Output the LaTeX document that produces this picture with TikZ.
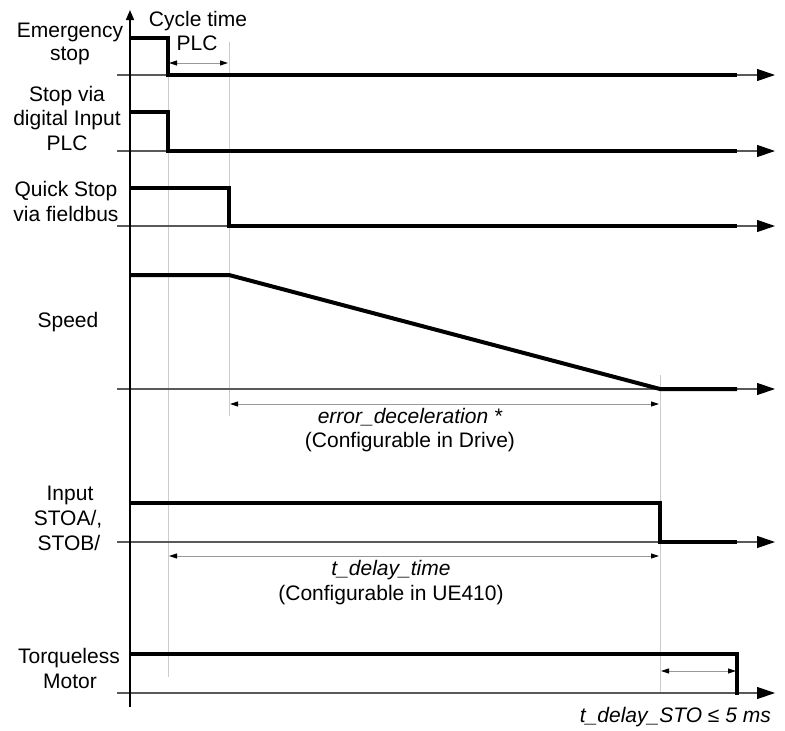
\documentclass[tikz,border=0pt]{standalone}
\usepackage{fontspec}
\setmainfont{Liberation Sans}
\usetikzlibrary{arrows.meta}
\begin{document}
\begin{tikzpicture}[x=1pt,y=-1pt,
  lbl/.style={anchor=base,inner sep=0pt,font=\fontsize{21}{25}\selectfont},
  ilbl/.style={lbl,font=\fontsize{21}{25}\selectfont\itshape},
  sig/.style={line width=4pt,line join=miter},
  baseln/.style={line width=1.2pt,draw=black!65,-{Triangle[length=18pt,width=12pt,color=black]}},
  guide/.style={line width=1pt,draw=black!20},
  dimln/.style={line width=0.9pt,draw=black!40,{Triangle[length=8pt,width=5pt,color=black]}-{Triangle[length=8pt,width=5pt,color=black]}}]
\useasboundingbox (0,0) rectangle (785,731);
% guide lines
\coordinate (g1a) at (168,75);  \coordinate (g1b) at (168,677);
\coordinate (g2a) at (229,42);  \coordinate (g2b) at (229,416);
\coordinate (g3a) at (660,375); \coordinate (g3b) at (660,693);
\draw[guide] (g1a) -- (g1b);
\draw[guide] (g2a) -- (g2b);
\draw[guide] (g3a) -- (g3b);
% baselines
\foreach \y/\n in {75/b1,151/b2,226/b3,389/b4,542/b5,693/b6}{
  \coordinate (\n s) at (117,\y);
  \coordinate (\n e) at (775,\y);
  \draw[baseln] (\n s) -- (\n e);
}
% axis
\coordinate (ax0) at (130,707);
\coordinate (ax1) at (130,10);
\draw[line width=1.5pt,-{Triangle[length=10pt,width=8pt]}] (ax0) -- (ax1);
% signals
\draw[sig] (130,38) -- (168,38) -- (168,75) -- (737,75);
\draw[sig] (130,112) -- (168,112) -- (168,151) -- (737,151);
\draw[sig] (130,188) -- (229,188) -- (229,226) -- (737,226);
\draw[sig] (130,275) -- (229,275) -- (660,389) -- (737,389);
\draw[sig] (130,503) -- (660,503) -- (660,542) -- (737,542);
\draw[sig] (130,654) -- (737,654) -- (737,695);
% dimension arrows
\coordinate (d1a) at (169,63);  \coordinate (d1b) at (228,63);
\coordinate (d2a) at (230,404); \coordinate (d2b) at (659,404);
\coordinate (d3a) at (169,556); \coordinate (d3b) at (659,556);
\coordinate (d4a) at (661,671); \coordinate (d4b) at (736,671);
\draw[dimln] (d1a) -- (d1b);
\draw[dimln] (d2a) -- (d2b);
\draw[dimln] (d3a) -- (d3b);
\draw[dimln] (d4a) -- (d4b);
% labels
\node[lbl] (l1a) at (70,37) {Emergency};
\node[lbl] (l1b) at (70,60) {stop};
\node[lbl] (l2a) at (67,101) {Stop via};
\node[lbl] (l2b) at (67,125) {digital Input};
\node[lbl] (l2c) at (67,150) {PLC};
\node[lbl] (l3a) at (66,196) {Quick Stop};
\node[lbl] (l3b) at (66,221) {via fieldbus};
\node[lbl] (l4) at (68,327) {Speed};
\node[lbl] (l5a) at (70,500) {Input};
\node[lbl] (l5b) at (68,525) {STOA/,};
\node[lbl] (l5c) at (69,550) {STOB/};
\node[lbl] (l6a) at (69,663) {Torqueless};
\node[lbl] (l6b) at (70,688) {Motor};
\node[lbl] (c1) at (198,26) {Cycle time};
\node[lbl] (c2) at (197,50) {PLC};
\node[ilbl] (e1) at (410,423) {error\_deceleration *};
\node[lbl] (e2) at (410,447) {(Configurable in Drive)};
\node[ilbl] (t1) at (391,575) {t\_delay\_time};
\node[lbl] (t2) at (391,600) {(Configurable in UE410)};
\node[ilbl,anchor=base east] (s1) at (771,722) {t\_delay\_STO ≤ 5 ms};
\end{tikzpicture}
\end{document}
